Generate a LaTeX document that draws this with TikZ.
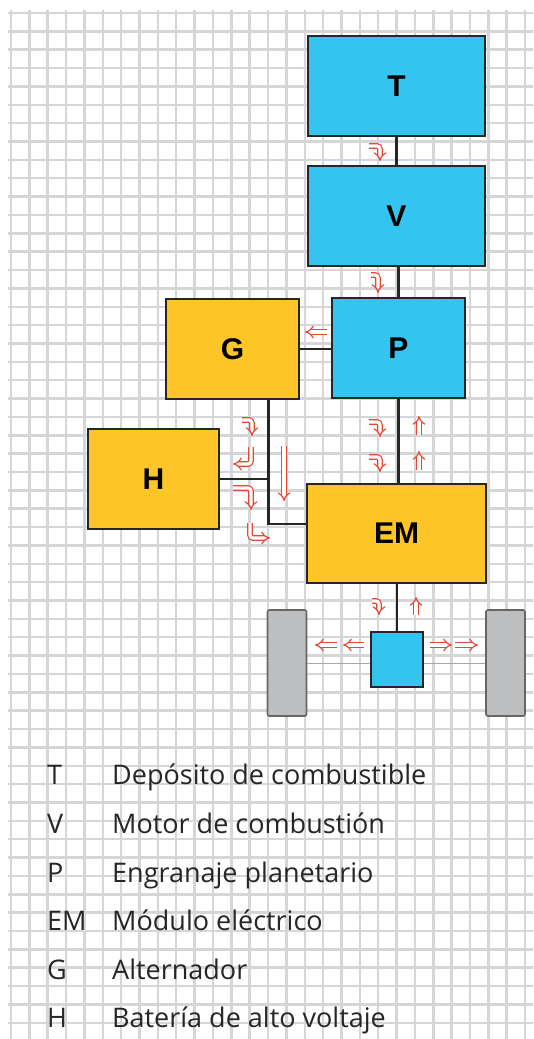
\documentclass[tikz,border=0pt]{standalone}
\usepackage{fontspec}
\setmainfont{Open Sans}
\newfontfamily\boxfont{Liberation Sans}
\usepackage{xcolor}
\usetikzlibrary{arrows.meta, positioning, calc}
\definecolor{boxcyan}{RGB}{52,196,240}
\definecolor{boxyellow}{RGB}{253,197,38}
\definecolor{wheelgray}{RGB}{188,190,192}
\definecolor{flowred}{RGB}{230,72,52}
\definecolor{gridgray}{RGB}{214,214,216}

\begin{document}
\begin{tikzpicture}[x=1pt, y=-1pt,
  unit/.style={rectangle, draw=black!85, line width=2pt, inner sep=0pt,
               font=\boxfont\bfseries\fontsize{30}{30}\selectfont},
  ice/.style={unit, fill=boxcyan},
  elec/.style={unit, fill=boxyellow},
  wheel/.style={rectangle, rounded corners=2pt, draw=black!60, line width=1.6pt,
                fill=wheelgray, minimum width=39pt, minimum height=106pt},
  link/.style={line width=2.6pt, black!85},
  axle/.style={line width=0.9pt, black!35},
  flow/.style={draw=flowred, line width=1.2pt, double=white, double distance=3.2pt,
               -{Implies}, rounded corners=3pt},
  key/.style={anchor=base west, inner sep=0pt, text=black!85,
              font=\fontsize{27}{28}\selectfont},
  gridline/.style={gridgray, line width=2.5pt}
]
  \useasboundingbox (0,0) rectangle (533,1039);
  \fill[white] (0,0) rectangle (533,1039);

  % squared paper
  \foreach \i in {0,...,28}
    \draw[gridline] ({11+18.36*\i},10) -- ({11+18.36*\i},1039);
  \foreach \j in {0,...,55}
    \draw[gridline] (8,{13+18.36*\j}) -- (533,{13+18.36*\j});

  % drivetrain blocks
  \node[ice,  minimum width=177pt, minimum height=100pt] (T)  at (396.5,86)  {T};
  \node[ice,  minimum width=177pt, minimum height=100pt] (V)  at (396.5,216) {V};
  \node[ice,  minimum width=133pt, minimum height=100pt] (P)  at (398.5,348) {P};
  \node[elec, minimum width=133pt, minimum height=100pt] (G)  at (232.5,349) {G};
  \node[elec, minimum width=131pt, minimum height=100pt] (H)  at (153.5,479) {H};
  \node[elec, minimum width=179pt, minimum height=99pt]  (EM) at (396.5,533) {EM};
  \node[ice,  minimum width=52pt,  minimum height=55pt]  (hub) at (397,659.5) {};
  \node[wheel] (wl) at (287,663) {};
  \node[wheel] (wr) at (505.5,663) {};

  % shafts and cables
  \draw[link] (T.south) -- (V.north);
  \draw[link] (P.north) -- (P.north |- V.south);
  \draw[link] (G.east) -- (G.east -| P.west);
  \draw[link] (P.south) -- (P.south |- EM.north);
  \draw[link] (hub.north) -- (hub.north |- EM.south);
  \coordinate (gbus) at ([xshift=36pt]G.south);
  \draw[link] (gbus) |- ([yshift=9pt]EM.west);
  \draw[link] (H.east) -- (H.east -| gbus);
  \draw[axle] (wl.east) -- (wl.east -| hub.west);
  \draw[axle] (wr.west) -- (wr.west -| hub.east);

  % energy flow
  \draw[flow] (369,146) -- (380,146) -- (380,161);
  \draw[flow] (371,275) -- (378,275) -- (378,293);
  \draw[flow] (327,332) -- (305,332);
  \draw[flow] (242,420) -- (252,420) -- (252,436);
  \draw[flow] (251,447) -- (251,464) -- (233,464);
  \draw[flow] (233,488) -- (251,488) -- (251,510);
  \draw[flow] (250,523) -- (250,538) -- (270,538);
  \draw[flow] (284,446) -- (284,501);
  \foreach \y in {422,457} {
    \draw[flow] (369,\y) -- (380,\y) -- (380,\y+15);
    \draw[flow] (419,\y+13) -- (419,\y-6);
  }
  \draw[flow] (372,601) -- (379,601) -- (379,615);
  \draw[flow] (416,615) -- (416,597);
  \draw[flow] (337,645) -- (315,645);
  \draw[flow] (364,645) -- (343,645);
  \draw[flow] (430,645) -- (452,645);
  \draw[flow] (455,645) -- (478,645);

  % legend
  \node[key] (kT)  at (47,784)  {T};
  \node[key] (kV)  at (47,833)  {V};
  \node[key] (kP)  at (47,882)  {P};
  \node[key] (kEM) at (47,930)  {EM};
  \node[key] (kG)  at (47,979)  {G};
  \node[key] (kH)  at (47,1027) {H};
  \node[key] (dT)  at (112,784)  {Depósito de combustible};
  \node[key] (dV)  at (112,833)  {Motor de combustión};
  \node[key] (dP)  at (112,882)  {Engranaje planetario};
  \node[key] (dEM) at (112,930)  {Módulo eléctrico};
  \node[key] (dG)  at (112,979)  {Alternador};
  \node[key] (dH)  at (112,1027) {Batería de alto voltaje};
\end{tikzpicture}
\end{document}
